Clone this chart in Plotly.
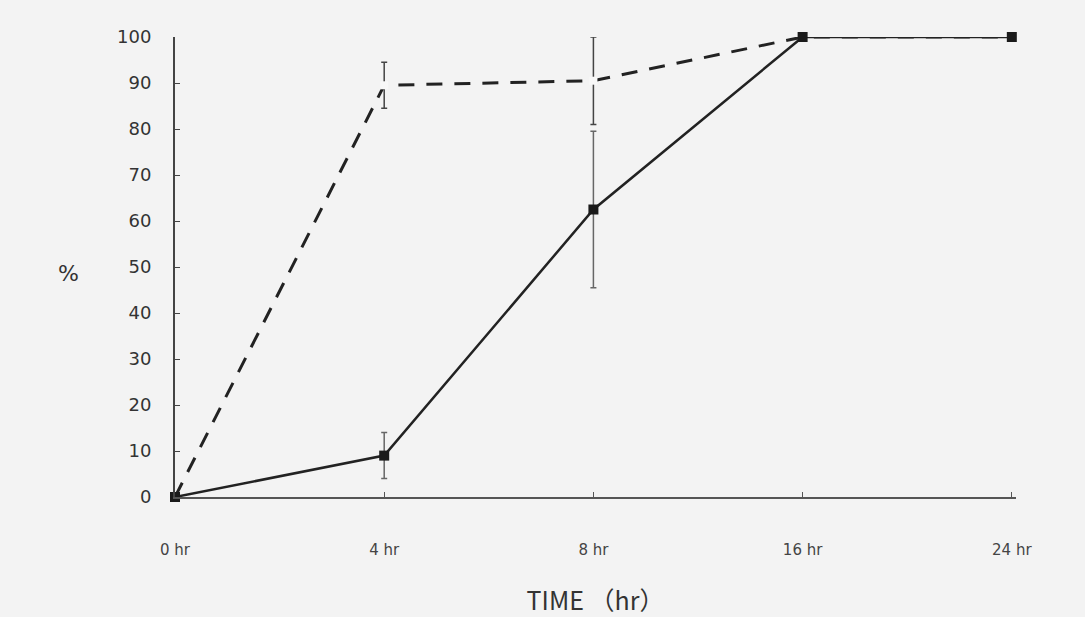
import plotly.graph_objects as go

categories = ["0 hr", "4 hr", "8 hr", "16 hr", "24 hr"]
dashed_vals = [0, 89.5, 90.5, 100, 100]
dashed_err = [0, 5, 9.5, 0, 0]
solid_vals = [0, 9, 62.5, 100, 100]
solid_err = [0, 5, 17, 0, 0]
y_ticks = [0, 10, 20, 30, 40, 50, 60, 70, 80, 90, 100]

xpos = list(range(len(categories)))

fig = go.Figure()
fig.add_trace(go.Scatter(
    x=xpos, y=dashed_vals, mode="lines+markers",
    line=dict(color="#222222", width=3, dash="16px,12px"),
    marker=dict(symbol="square", size=8, color="#f8f8f8", line=dict(color="#f8f8f8", width=0)),
    error_y=dict(type="data", array=dashed_err, visible=True, color="#444444", thickness=1.5, width=3),
    cliponaxis=False, showlegend=False,
))
fig.add_trace(go.Scatter(
    x=xpos, y=solid_vals, mode="lines+markers",
    line=dict(color="#222222", width=2.5),
    marker=dict(symbol="square", size=10, color="#1a1a1a"),
    error_y=dict(type="data", array=solid_err, visible=True, color="#666666", thickness=1.5, width=3),
    cliponaxis=False, showlegend=False,
))

fig.update_layout(
    width=1085, height=617,
    margin=dict(l=175, r=69, t=37, b=120),
    paper_bgcolor="#f3f3f3", plot_bgcolor="#f3f3f3",
    font=dict(family="DejaVu Sans", color="#333333"),
    xaxis=dict(
        range=[0, 4.02], tickvals=xpos, ticktext=categories, automargin=False,
        showgrid=False, zeroline=False, showline=True, linecolor="#555555", linewidth=2,
        ticks="inside", ticklen=5, tickcolor="#555555",
        tickfont=dict(size=15, color="#444444"), ticklabelstandoff=38,
        title=dict(text="TIME （hr）", font=dict(family="Noto Sans CJK JP", size=25, color="#333333"), standoff=34),
    ),
    yaxis=dict(
        range=[0, 100], tickvals=y_ticks, automargin=False,
        showgrid=False, zeroline=False, showline=True, linecolor="#444444", linewidth=2,
        ticks="inside", ticklen=5, tickcolor="#444444",
        tickfont=dict(size=18, color="#333333"), ticklabelstandoff=18,
    ),
    annotations=[dict(text="%", xref="paper", yref="paper", x=-0.127, y=0.485, xanchor="center", yanchor="middle",
                      showarrow=False, font=dict(size=22, color="#333333"))],
)

fig.write_html("out.html", config={"displayModeBar": False})
with open("out.html", "r", encoding="utf-8") as f:
    html = f.read()
html = html.replace("<head>", "<head><style>html,body{margin:0;padding:0;background:#f3f3f3;}</style>", 1)
with open("out.html", "w", encoding="utf-8") as f:
    f.write(html)
